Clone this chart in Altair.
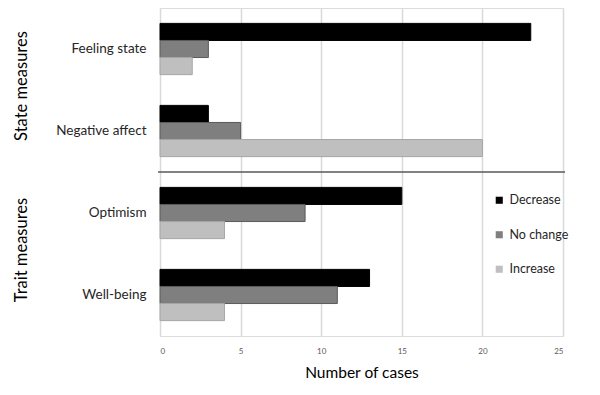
import altair as alt
import pandas as pd

measures = ["Feeling state", "Negative affect", "Optimism", "Well-being"]
series = ["Decrease", "No change", "Increase"]
decrease = [23, 3, 15, 13]
no_change = [3, 5, 9, 11]
increase = [2, 20, 4, 4]
groups = ["State measures", "Trait measures"]
group_anchor = ["Feeling state", "Optimism"]  # first measure of each group
x_ticks = [0, 5, 10, 15, 20, 25]

rows = []
for i, m in enumerate(measures):
    for s, vals in zip(series, [decrease, no_change, increase]):
        rows.append({"measure": m, "change": s, "cases": vals[i]})
df = pd.DataFrame(rows)

grp_df = pd.DataFrame({"group": groups, "measure": group_anchor})
sep_df = pd.DataFrame({"measure": ["Negative affect"]})

FONT = "Lato"

yscale = alt.Scale(domain=measures, paddingInner=0, paddingOuter=0)

bars = alt.Chart(df).mark_bar(strokeWidth=1).encode(
    x=alt.X("cases:Q", scale=alt.Scale(domain=[0, 25], nice=False),
            axis=alt.Axis(values=x_ticks, title="Number of cases", grid=True,
                          gridColor="#d9d9d9", gridWidth=1.5, domain=False, ticks=False,
                          labelFontSize=8, labelColor="#595959", labelPadding=11,
                          titleFontSize=15.5, titleFontWeight="normal", titleColor="#000000",
                          titlePadding=10, labelFont=FONT, titleFont=FONT)),
    y=alt.Y("measure:N", scale=yscale, sort=measures,
            axis=alt.Axis(title=None, domain=False, ticks=False, labelFontSize=13.5,
                          labelColor="#262626", labelPadding=14, labelFont=FONT)),
    yOffset=alt.YOffset("change:N", sort=series,
                        scale=alt.Scale(domain=series, paddingInner=0, paddingOuter=0.9)),
    color=alt.Color("change:N", sort=series,
                    scale=alt.Scale(domain=series, range=["#000000", "#7f7f7f", "#bfbfbf"]),
                    legend=alt.Legend(title=None, orient="none", legendX=333, legendY=186,
                                      symbolType="square", symbolSize=50, symbolStrokeWidth=0,
                                      labelFontSize=12.5, labelFont=FONT, labelColor="#262626",
                                      rowPadding=21.5, labelOffset=4)),
    stroke=alt.Stroke("change:N", sort=series,
                      scale=alt.Scale(domain=series, range=["#000000", "#5a5a5a", "#a6a6a6"]),
                      legend=None),
)

grp_text = alt.Chart(grp_df).mark_text(angle=270, fontSize=16.5, font=FONT, color="#000000",
                                       baseline="middle", align="center", dx=4).encode(
    y=alt.Y("measure:N", scale=yscale, sort=measures, bandPosition=1),
    x=alt.value(-138),
    text="group:N",
)

sep = alt.Chart(sep_df).mark_rule(color="#595959", strokeWidth=1.5).encode(
    y=alt.Y("measure:N", scale=yscale, sort=measures, bandPosition=1),
    x=alt.value(-2),
    x2=alt.value(405),
)

chart = alt.layer(bars, sep, grp_text).properties(
    width=403, height=328,
    autosize=alt.AutoSizeParams(type="none"),
    padding={"left": 152, "top": 0, "right": 29, "bottom": 45},
).configure_view(stroke=None).configure(background="white")

chart.save("out.html", embed_options={"renderer": "svg", "actions": False})
